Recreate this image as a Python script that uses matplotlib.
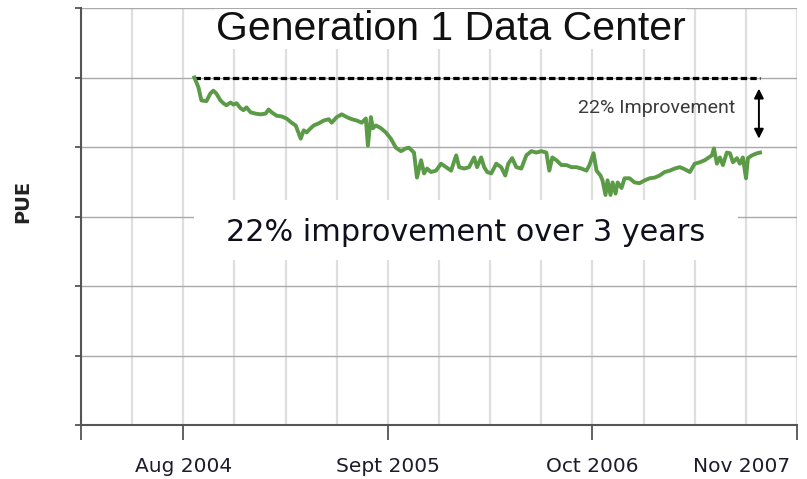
import numpy as np
import matplotlib.pyplot as plt
from matplotlib.ticker import MultipleLocator
from matplotlib.patches import Rectangle
from matplotlib.transforms import ScaledTranslation

# months after Aug 2004 and PUE (in gridline units)
months = [0.70, 0.96, 1.15, 1.47, 1.72, 1.91, 2.10, 2.36, 2.55, 2.74, 3.00, 3.19, 3.38, 3.63,
          3.82, 4.02, 4.27, 4.59, 4.91, 5.23, 5.42, 5.61, 5.93, 6.25, 6.56, 6.88, 7.14, 7.33,
          7.46, 7.65, 7.84, 8.09, 8.29, 8.60, 8.92, 9.24, 9.43, 9.75, 10.07, 10.39, 10.71,
          11.03, 11.34, 11.60, 11.73, 11.92, 12.05, 12.24, 12.56, 12.87, 13.19, 13.51, 13.83,
          14.15, 14.34, 14.66, 14.85, 15.11, 15.30, 15.49, 15.74, 16.06, 16.38, 16.70, 17.02,
          17.34, 17.53, 17.85, 18.16, 18.48, 18.67, 18.93, 19.12, 19.31, 19.57, 19.89, 20.20,
          20.46, 20.65, 20.90, 21.16, 21.48, 21.80, 22.12, 22.43, 22.75, 23.07, 23.26, 23.45,
          23.71, 24.03, 24.35, 24.67, 24.98, 25.30, 25.62, 25.81, 26.07, 26.26, 26.51, 26.64,
          26.83, 26.96, 27.15, 27.28, 27.47, 27.60, 27.85, 28.04, 28.36, 28.68, 29.00, 29.32,
          29.64, 29.96, 30.27, 30.59, 30.91, 31.23, 31.55, 31.87, 32.19, 32.50, 32.82, 33.14,
          33.33, 33.59, 33.72, 33.91, 34.10, 34.29, 34.54, 34.74, 34.93, 35.18, 35.37, 35.56,
          35.76, 35.88, 36.14, 36.46, 36.65]
pue = [5.00, 4.86, 4.67, 4.66, 4.77, 4.81, 4.77, 4.67, 4.63, 4.60, 4.64, 4.61, 4.63, 4.56,
       4.53, 4.57, 4.50, 4.48, 4.47, 4.48, 4.54, 4.50, 4.45, 4.44, 4.41, 4.35, 4.31, 4.20,
       4.12, 4.24, 4.21, 4.27, 4.31, 4.34, 4.38, 4.40, 4.35, 4.43, 4.47, 4.43, 4.40,
       4.38, 4.35, 4.41, 4.02, 4.43, 4.27, 4.31, 4.27, 4.21, 4.12, 3.99, 3.94,
       3.98, 3.99, 3.92, 3.56, 3.81, 3.62, 3.69, 3.64, 3.66, 3.76, 3.71, 3.66,
       3.88, 3.71, 3.69, 3.71, 3.85, 3.71, 3.85, 3.71, 3.64, 3.62, 3.76, 3.71,
       3.59, 3.76, 3.84, 3.71, 3.69, 3.88, 3.94, 3.92, 3.94, 3.92, 3.66, 3.85,
       3.81, 3.74, 3.74, 3.71, 3.71, 3.69, 3.66, 3.74, 3.91, 3.66, 3.59, 3.52,
       3.31, 3.52, 3.31, 3.49, 3.33, 3.49, 3.41, 3.55, 3.55, 3.49, 3.48, 3.52,
       3.55, 3.56, 3.59, 3.64, 3.66, 3.69, 3.71, 3.68, 3.64, 3.76, 3.78, 3.81,
       3.84, 3.88, 3.98, 3.76, 3.85, 3.74, 3.92, 3.91, 3.78, 3.84, 3.76, 3.85,
       3.55, 3.84, 3.88, 3.91, 3.92]

tick_pos = [-6.5, 0, 13, 26, 39]
tick_labels = ['', 'Aug 2004', 'Sept 2005', 'Oct 2006', 'Nov 2007']

fig = plt.figure(figsize=(8.07, 4.79), dpi=100)
ax = fig.add_axes([0.1004, 0.1127, 0.8872, 0.8706])
ax.set_xlim(-6.5, 39)
ax.set_ylim(0, 6)

ax.set_xticks(tick_pos)
ax.set_xticklabels(tick_labels, fontsize=14.5, color='#1c1c2c')
ax.xaxis.set_minor_locator(MultipleLocator(3.25))
ax.set_yticks(range(7))
ax.set_yticklabels([])
ax.grid(axis='x', which='both', color='#dedede', lw=1.6)
ax.grid(axis='y', color='#a9a9a9', lw=1.0)
ax.set_axisbelow(True)
ax.tick_params(axis='x', which='major', length=11, width=1.3, color='#555555', pad=12)
ax.tick_params(axis='x', which='minor', length=0)
ax.tick_params(axis='y', length=4.5, width=1.3, color='#555555')
ax.spines['top'].set_visible(False)
ax.spines['right'].set_visible(False)
for s in ['left', 'bottom']:
    ax.spines[s].set_color('#555555')
    ax.spines[s].set_linewidth(1.5)
last = ax.get_xticklabels()[-1]
last.set_horizontalalignment('right')
last.set_transform(last.get_transform() + ScaledTranslation(-0.07, 0, fig.dpi_scale_trans))

# baseline at the starting PUE
ax.plot([months[0], months[-1]], [pue[0], pue[0]], color='black', lw=2.3,
        dashes=(2.0, 1.0), zorder=3)
ax.plot(months, pue, color='#5b9a46', lw=2.8, zorder=4, solid_joinstyle='round')

ax.add_patch(Rectangle((0.158, 0.396), 0.76, 0.144, transform=ax.transAxes,
                       facecolor='white', edgecolor='none', zorder=2.5))
ax.text(0.5377, 0.4628, '22% improvement over 3 years', transform=ax.transAxes,
        ha='center', va='center', fontsize=21.8, color='#10101c', zorder=5)

ax.text(0.8045, 0.760, '22% Improvement', transform=ax.transAxes, ha='center',
        va='center', fontsize=14, color='#3a3a3a', family='Roboto')
ax.annotate('', xy=(36.58, 4.84), xytext=(36.58, 4.12),
            arrowprops=dict(arrowstyle='<|-|>', color='black', lw=1.4,
                            mutation_scale=14, shrinkA=0, shrinkB=0))

fig.text(0.559, 0.9395, 'Generation 1 Data Center', ha='center', va='center',
         fontsize=29.5, family='Liberation Sans', color='#111111',
         bbox=dict(facecolor='white', edgecolor='none', pad=1))
fig.text(23 / 807, 1 - 201 / 479, 'PUE', rotation=90, ha='center', va='center',
         fontsize=14, fontweight='bold', color='#222222')

fig.savefig('out.png', dpi=100)
